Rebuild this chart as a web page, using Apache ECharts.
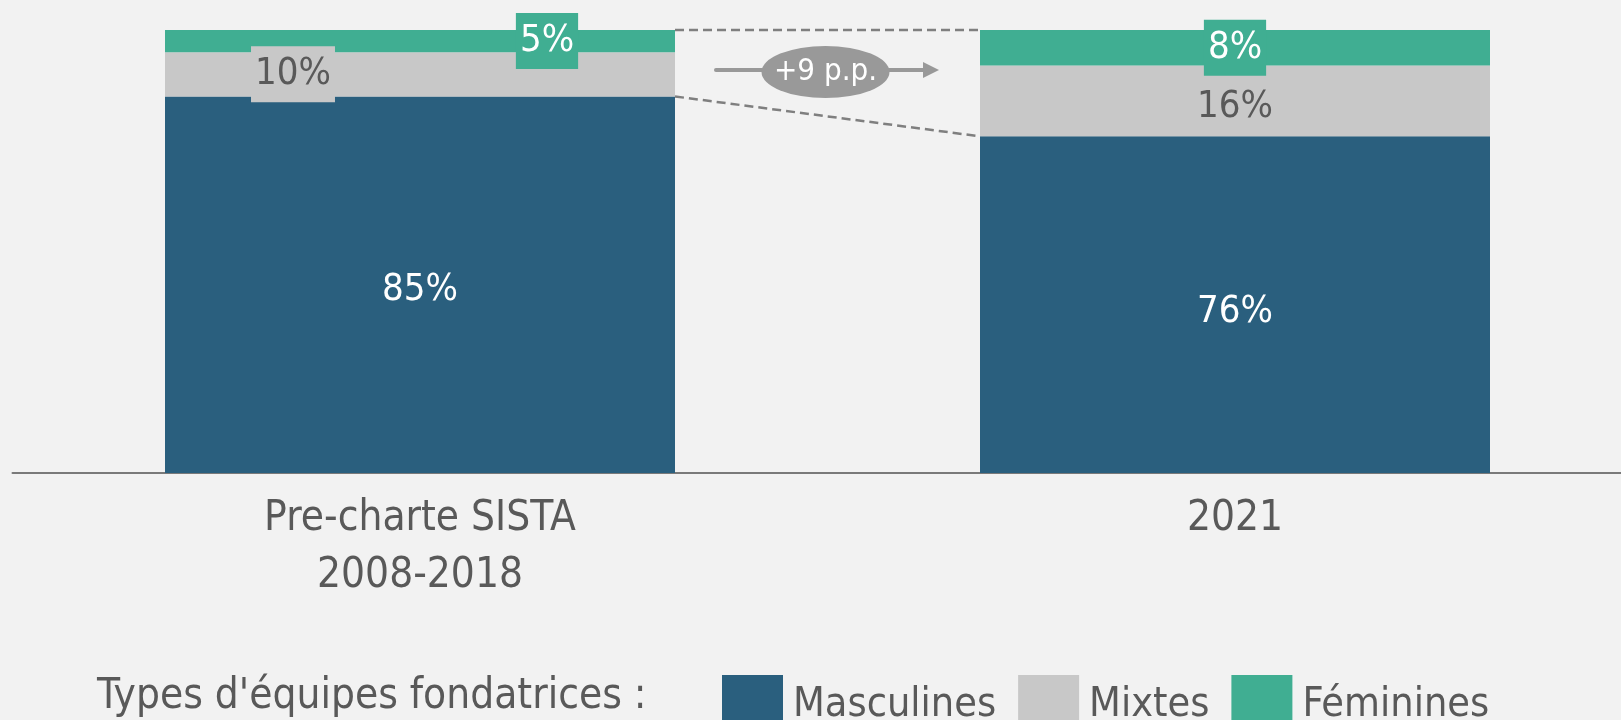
<!DOCTYPE html>
<html>
<head>
<meta charset="utf-8">
<script src="https://cdn.jsdelivr.net/npm/echarts@6/dist/echarts.min.js"></script>
<style>
  html, body { margin: 0; padding: 0; background: #f2f2f2; }
  #main { width: 1621px; height: 720px; }
</style>
</head>
<body>
<div id="main"></div>
<script>
// données
const categories = ["Pre-charte SISTA\n2008-2018", "2021"];
const masculines = [85, 76];
const mixtes = [10, 16];
const feminines = [5, 8];
const seriesNames = ["Masculines", "Mixtes", "Féminines"];
const legendTitle = "Types d'équipes fondatrices :";

const FONT = "'DejaVu Sans Condensed', 'DejaVu Sans', sans-serif";
const TEXT = "#595959";
const BLUE = "#2a5f7e";
const GREY = "#c8c8c8";
const GREEN = "#40ae92";
const BAR_W = 510;

const myChart = echarts.init(document.getElementById("main"));

// décalage des étiquettes (la 1re barre a ses petites étiquettes écartées)
const shiftBlue = [[0, 5], [0, 7]];
const shiftGrey = [[-127, 0], [0, 6]];
const shiftGreen = [[127, 0], [0, 0]];

const option = {
  animation: false,
  backgroundColor: "#f2f2f2",
  textStyle: { fontFamily: FONT },
  title: {
    text: legendTitle,
    left: 97,
    top: 676,
    padding: 0,
    textStyle: { fontSize: 42, fontWeight: "normal", color: TEXT, fontFamily: FONT },
  },
  legend: {
    data: seriesNames,
    left: 722,
    top: 675,
    padding: 0,
    icon: "rect",
    itemWidth: 61,
    itemHeight: 61,
    itemGap: 22,
    textStyle: { fontSize: 41, color: TEXT, fontFamily: FONT, padding: [0, 0, 10, 5] },
  },
  // l'axe déborde à droite du cadre
  grid: { left: 12.5, width: 1630, top: 30, bottom: 247, outerBoundsMode: "none", containLabel: false },
  xAxis: {
    type: "category",
    data: categories,
    axisLine: { lineStyle: { color: "#7a7a7a", width: 2 } },
    axisTick: { show: false },
    axisLabel: { interval: 0, fontSize: 42, lineHeight: 57, color: TEXT, margin: 18, fontFamily: FONT },
  },
  yAxis: { type: "value", min: 0, max: 100, show: false, splitLine: { show: false } },
  series: [
    {
      name: seriesNames[0],
      type: "bar",
      stack: "a",
      barWidth: BAR_W,
      itemStyle: { color: BLUE },
      label: { show: true, position: "inside", formatter: "{c}%", fontSize: 38, color: "#fff", fontFamily: FONT },
      data: masculines.map((v, i) => ({ value: v, label: { offset: shiftBlue[i] } })),
    },
    {
      name: seriesNames[1],
      type: "bar",
      stack: "a",
      barWidth: BAR_W,
      itemStyle: { color: GREY },
      label: {
        show: true, position: "inside", formatter: "{c}%", fontSize: 38, color: TEXT, fontFamily: FONT,
        backgroundColor: GREY, padding: [9, 4],
      },
      data: mixtes.map((v, i) => ({ value: v, label: { offset: shiftGrey[i] } })),
    },
    {
      name: seriesNames[2],
      type: "bar",
      stack: "a",
      barWidth: BAR_W,
      itemStyle: { color: GREEN },
      label: {
        show: true, position: "inside", formatter: "{c}%", fontSize: 38, color: "#fff", fontFamily: FONT,
        backgroundColor: GREEN, padding: [9, 4],
      },
      data: feminines.map((v, i) => ({ value: v, label: { offset: shiftGreen[i] } })),
    },
  ],
};
myChart.setOption(option);

// annotations : lignes pointillées + flèche "+x p.p."
function drawAnnotations() {
  const px = (i, v) => myChart.convertToPixel({ gridIndex: 0 }, [i, v]);
  const tot0 = masculines[0] + mixtes[0] + feminines[0];
  const tot1 = masculines[1] + mixtes[1] + feminines[1];
  const xa = px(0, tot0)[0] + BAR_W / 2;
  const xb = px(1, tot1)[0] - BAR_W / 2;
  const yTop0 = px(0, tot0)[1];
  const yTop1 = px(1, tot1)[1];
  const yM0 = px(0, masculines[0])[1];
  const yM1 = px(1, masculines[1])[1];
  const ay = yTop0 + 40;
  const cx = (xa + xb) / 2 - 2;
  const cy = ay + 2;
  const diff = (mixtes[1] + feminines[1]) - (mixtes[0] + feminines[0]);
  const dash = { stroke: "#7f7f7f", lineWidth: 2.5, lineDash: [9, 5] };
  myChart.setOption({
    graphic: [
      { type: "line", shape: { x1: xa, y1: yTop0, x2: xb, y2: yTop1 }, style: dash },
      { type: "line", shape: { x1: xa, y1: yM0, x2: xb, y2: yM1 }, style: dash },
      { type: "line", shape: { x1: xa + 41, y1: ay, x2: xb - 55, y2: ay }, style: { stroke: "#999", lineWidth: 4, lineCap: "round" } },
      { type: "polygon", shape: { points: [[xb - 57, ay - 8], [xb - 41, ay], [xb - 57, ay + 8]] }, style: { fill: "#999" } },
      { type: "circle", x: cx, y: cy, scaleX: 64 / 26, shape: { cx: 0, cy: 0, r: 26 }, style: { fill: "#999" } },
      {
        type: "text", x: cx, y: cy,
        style: { text: "+" + diff + " p.p.", fill: "#fff", align: "center", verticalAlign: "middle", font: "31px " + FONT },
      },
    ],
  });
}
drawAnnotations();
</script>
</body>
</html>
